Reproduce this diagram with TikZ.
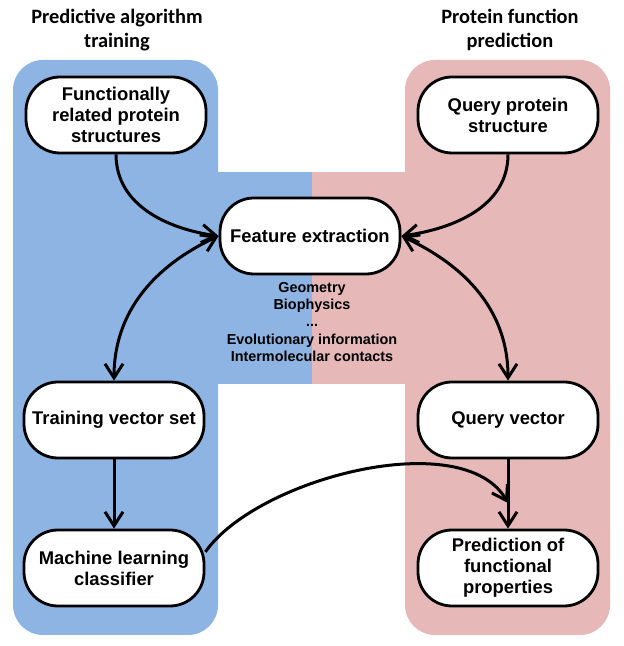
\documentclass[tikz,border=0pt]{standalone}
\usepackage{fontspec}
\setmainfont{Liberation Sans}
\newfontfamily\titlefont{Carlito}
\usetikzlibrary{arrows.meta}

\definecolor{trainblue}{RGB}{141,180,226}
\definecolor{predpink}{RGB}{230,185,184}

\begin{document}
\begin{tikzpicture}[x=0.5pt, y=0.5pt,
    box/.style={draw, line width=1.4pt, fill=white, rounded corners=17pt,
      minimum width=90pt, minimum height=38pt, inner sep=2pt, align=center,
      font=\bfseries\fontsize{9.2}{10.5}\selectfont},
    title/.style={align=center, font=\titlefont\bfseries\fontsize{10.2}{12}\selectfont},
    link/.style={line width=1.5pt, >={Straight Barb[length=7pt,width=9pt]}}]
    \useasboundingbox (0,0) rectangle (624,646);

    % background panels
    \fill[trainblue, rounded corners=15pt] (13,11) rectangle (218,586);
    \fill[predpink, rounded corners=15pt] (405,11) rectangle (610,586);
    \fill[trainblue] (217,262) rectangle (312,474);
    \fill[predpink] (312,262) rectangle (406,474);

    \node[title] (ttrain) at (117,616) {Predictive algorithm\\training};
    \node[title] (tpred) at (510,616) {Protein function\\prediction};

    \node[box] (struct) at (116,531) {Functionally\\related protein\\structures};
    \node[box] (query) at (508,531) {Query protein\\structure};
    \node[box] (feat) at (310,410) {Feature extraction};
    \node[align=center, font=\bfseries\fontsize{7.2}{8.7}\selectfont] (featlist) at (312,324)
      {Geometry\\Biophysics\\...\\Evolutionary information\\Intermolecular contacts};
    \node[box] (trainset) at (114,226) {Training vector set};
    \node[box] (qvec) at (508,226) {Query vector};
    \node[box] (classifier) at (114,78) {Machine learning\\classifier};
    \node[box] (predict) at (508,78) {Prediction of\\functional\\properties};
    \coordinate (merge) at (508,143);

    % Arrows
    \draw[link, ->] (struct.south) to[out=-90, in=172] (feat.west);
    \draw[link, <->] (feat.west) to[out=205, in=90] (trainset.north);
    \draw[link, ->] (query.south) to[out=-90, in=8] (feat.east);
    \draw[link, <->] (feat.east) to[out=-25, in=90] (qvec.north);
    \draw[link, ->] (trainset.south) -- (classifier.north);
    \draw[link, ->] (qvec.south) -- (predict.north);
    \draw[link, ->] (classifier.10) to[out=55, in=120, looseness=0.75] (merge);
\end{tikzpicture}
\end{document}
